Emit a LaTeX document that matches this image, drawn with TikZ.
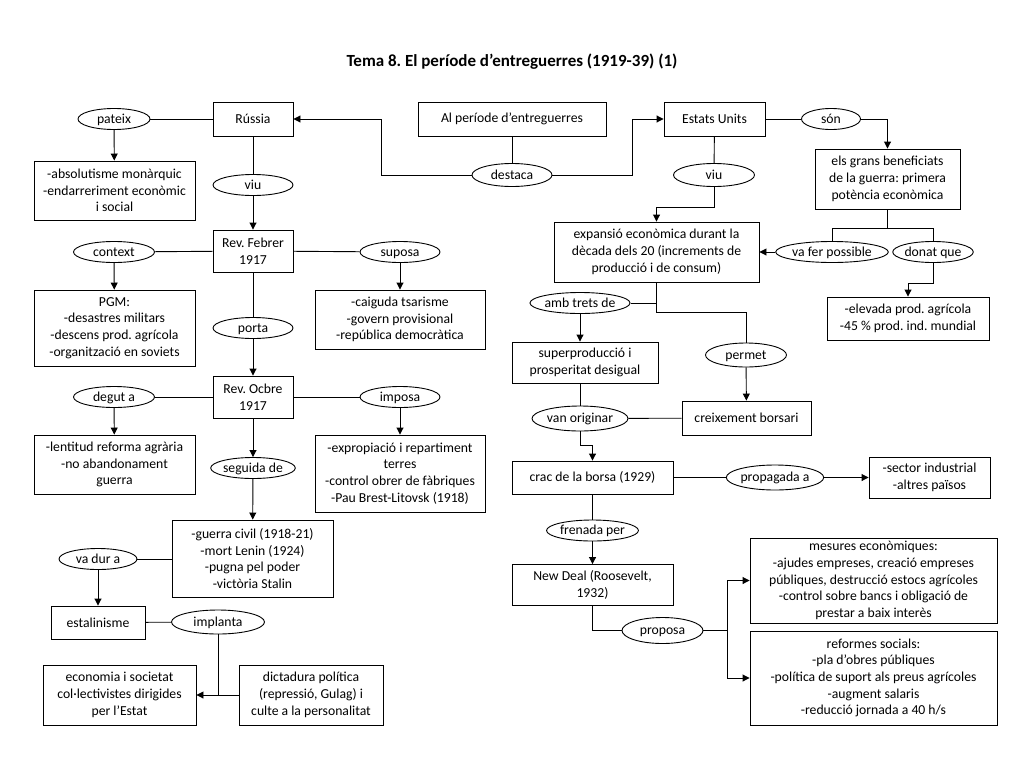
\documentclass[tikz,border=0pt]{standalone}
\usepackage{fontspec}
\setmainfont{Carlito}
\usepackage{tikz}
\usetikzlibrary{shapes.geometric, arrows.meta, calc}
\frenchspacing

\begin{document}
\begin{tikzpicture}[x=1pt, y=-1pt, font=\fontsize{13.7}{16.7}\selectfont,
    box/.style={draw, line width=0.9pt, align=center, inner sep=1pt},
    verb/.style={draw, ellipse, line width=0.9pt, inner sep=0pt, minimum height=21pt,
      text height=10.5pt, text depth=2pt},
    ln/.style={line width=0.9pt},
    arr/.style={line width=0.9pt, -{Triangle[length=7pt, width=7pt]}}]
  \useasboundingbox (0,0) rectangle (1024,768);
  \node (title) at (512,62) {\fontsize{17}{20}\selectfont\bfseries Tema 8. El període d’entreguerres (1919-39) (1)};
  % Russia
  \node[box, minimum width=80pt, minimum height=34pt] (rus) at (253,119) {Rússia};
  \node[box, minimum width=161pt, minimum height=59pt] (absol) at (114.5,190.5) {-absolutisme monàrquic\\ -endarreriment econòmic\\ i social};
  \node[box, minimum width=80pt, minimum height=42pt] (febrer) at (253,251) {Rev. Febrer\\ 1917};
  \node[box, minimum width=161pt, minimum height=76pt] (pgm) at (114.5,328) {PGM:\\ -desastres militars\\ -descens prod. agrícola\\ -organització en soviets};
  \node[box, minimum width=170pt, minimum height=59pt] (caiguda) at (400,319.5) {-caiguda tsarisme\\ -govern provisional\\ -república democràtica};
  \node[box, minimum width=80pt, minimum height=42pt] (ocbre) at (253,397) {Rev. Ocbre\\ 1917};
  \node[box, minimum width=161pt, minimum height=59pt] (lentitud) at (114.5,464.5) {-lentitud reforma agrària\\ -no abandonament\\ guerra};
  \node[box, minimum width=170pt, minimum height=77pt] (exprop) at (400,473.5) {-expropiació i repartiment\\ terres\\ -control obrer de fàbriques\\ -Pau Brest-Litovsk (1918)};
  \node[box, minimum width=161pt, minimum height=77pt] (guerra) at (252.5,558.5) {-guerra civil (1918-21)\\ -mort Lenin (1924)\\ -pugna pel poder\\ -victòria Stalin};
  \node[box, minimum width=94pt, minimum height=33pt] (estal) at (98,622.5) {estalinisme};
  \node[box, minimum width=153pt, minimum height=60pt] (econ) at (119.5,695) {economia i societat\\ col·lectivistes dirigides\\ per l’Estat};
  \node[box, minimum width=144pt, minimum height=60pt] (dictad) at (311,695) {dictadura política\\ (repressió, Gulag) i\\ culte a la personalitat};
  \node[verb, minimum width=72pt] (pateix) at (114,119) {pateix};
  \node[verb, minimum width=80pt] (viuR) at (253,185) {viu};
  \node[verb, minimum width=81pt] (context) at (114,252) {context};
  \node[verb, minimum width=80pt] (suposa) at (400,252) {suposa};
  \node[verb, minimum width=80pt] (porta) at (253,328) {porta};
  \node[verb, minimum width=81pt] (degut) at (114,397) {degut a};
  \node[verb, minimum width=80pt] (imposa) at (400,397) {imposa};
  \node[verb, minimum width=80pt] (seguida) at (253,468) {seguida de};
  \node[verb, minimum width=78pt] (vadur) at (98,559) {va dur a};
  \node[verb, minimum width=93pt, minimum height=24pt] (implanta) at (218,622) {implanta};
  % centre and USA
  \node[box, minimum width=188pt, minimum height=34pt] (periode) at (512,119) {Al període d’entreguerres};
  \node[box, minimum width=101pt, minimum height=34pt] (eeuu) at (714.5,119) {Estats Units};
  \node[box, minimum width=145pt, minimum height=60pt] (benef) at (887.5,179) {els grans beneficiats\\ de la guerra: primera\\ potència econòmica};
  \node[box, minimum width=205pt, minimum height=60pt] (expans) at (656.5,252) {expansió econòmica durant la\\ dècada dels 20 (increments de\\ producció i de consum)};
  \node[box, minimum width=162pt, minimum height=43pt] (elevada) at (908,318.5) {-elevada prod. agrícola\\ -45 \% prod. ind. mundial};
  \node[box, minimum width=146pt, minimum height=41pt] (superp) at (585,362.5) {superproducció i\\ prosperitat desigual};
  \node[box, minimum width=129pt, minimum height=34pt] (creix) at (746.5,418) {creixement borsari};
  \node[box, minimum width=161pt, minimum height=33pt] (crac) at (592.5,477.5) {crac de la borsa (1929)};
  \node[box, minimum width=121pt, minimum height=41pt] (sector) at (929.5,477.5) {-sector industrial\\ -altres països};
  \node[box, minimum width=161pt, minimum height=41pt] (newdeal) at (592.5,585) {New Deal (Roosevelt,\\ 1932)};
  \node[box, minimum width=247pt, minimum height=85pt] (mesures) at (873.5,580.5) {mesures econòmiques:\\ -ajudes empreses, creació empreses\\ públiques, destrucció estocs agrícoles\\ -control sobre bancs i obligació de\\ prestar a baix interès};
  \node[box, minimum width=247pt, minimum height=94pt] (reformes) at (873.5,678) {reformes socials:\\ -pla d’obres públiques\\ -política de suport als preus agrícoles\\ -augment salaris\\ -reducció jornada a 40 h/s};
  \node[verb, minimum width=80pt, minimum height=23pt] (destaca) at (512,175) {destaca};
  \node[verb, minimum width=81pt, minimum height=23pt] (viuE) at (714,175) {viu};
  \node[verb, minimum width=59pt] (son) at (831,119) {són};
  \node[verb, minimum width=92pt] (vafer) at (832,252) {va fer possible};
  \node[verb, minimum width=79pt] (donat) at (933,252) {donat que};
  \node[verb, minimum width=87pt] (ambtrets) at (580,303) {amb trets de};
  \node[verb, minimum width=81pt, minimum height=24pt] (permet) at (746,355) {permet};
  \node[verb, minimum width=96pt, minimum height=25pt] (vanorig) at (580,418.5) {van originar};
  \node[verb, minimum width=87pt, minimum height=25pt] (propag) at (775,477.5) {propagada a};
  \node[verb, minimum width=89pt] (frenada) at (592.5,530.5) {frenada per};
  \node[verb, minimum width=81pt, minimum height=26pt] (proposa) at (662.5,630.5) {proposa};
  % connectors
  \draw[ln] (pateix) -- (rus);
  \draw[arr] (pateix) -- (absol);
  \draw[ln] (rus) -- (viuR);
  \draw[arr] (viuR) -- (febrer);
  \draw[ln] (context) -- (febrer);
  \draw[arr] (context) -- (pgm);
  \draw[ln] (febrer) -- (suposa);
  \draw[arr] (suposa) -- (caiguda);
  \draw[ln] (febrer) -- (porta);
  \draw[arr] (porta) -- (ocbre);
  \draw[ln] (degut) -- (ocbre);
  \draw[arr] (degut) -- (lentitud);
  \draw[ln] (ocbre) -- (imposa);
  \draw[arr] (imposa) -- (exprop);
  \draw[arr] (ocbre) -- (seguida);
  \draw[arr] (seguida) -- (guerra);
  \draw[ln] (vadur) -- (vadur -| guerra.west);
  \draw[arr] (vadur) -- (estal);
  \draw[ln] (estal) -- (implanta);
  \draw[arr] (implanta) |- (econ);
  \draw[ln] (dictad) -- (dictad -| implanta);
  \draw[ln] (periode) -- (destaca);
  \draw[arr] (destaca.west) -- ++(-90,0) |- (rus.east);
  \draw[arr] (destaca.east) -- ++(80,0) |- (eeuu.west);
  \draw[ln] (eeuu) -- (viuE);
  \draw[arr] (viuE.south) -- ++(0,20) -| (expans.north);
  \draw[ln] (eeuu) -- (son);
  \draw[arr] (son.east) -| (benef.north);
  \draw[ln] (benef.south) -- ++(0,19) coordinate (bj);
  \draw[ln] (vafer.north) |- (bj) -| (donat.north);
  \draw[arr] (vafer) -- (expans);
  \draw[arr] (donat.south) -- ++(0,20) -| (elevada.north);
  \draw[ln] (expans.south) -- ++(0,30) -| (permet.north);
  \draw[ln] (ambtrets) -- (ambtrets -| expans.south);
  \draw[arr] (ambtrets) -- (ambtrets |- superp.north);
  \draw[ln] (vanorig |- superp.south) -- (vanorig);
  \draw[arr] (permet) -- (creix);
  \draw[ln] (creix) -- (vanorig);
  \draw[arr] (vanorig.south) -- ++(0,14) -| (crac.north);
  \draw[ln] (crac) -- (propag);
  \draw[arr] (propag) -- (sector);
  \draw[ln] (crac) -- (frenada);
  \draw[arr] (frenada) -- (newdeal);
  \draw[ln] (newdeal.south) |- (proposa.west);
  \draw[arr] (proposa.east) -- ++(24,0) coordinate (pj) |- (mesures.west);
  \draw[arr] (pj) |- (reformes.west);
\end{tikzpicture}
\end{document}
